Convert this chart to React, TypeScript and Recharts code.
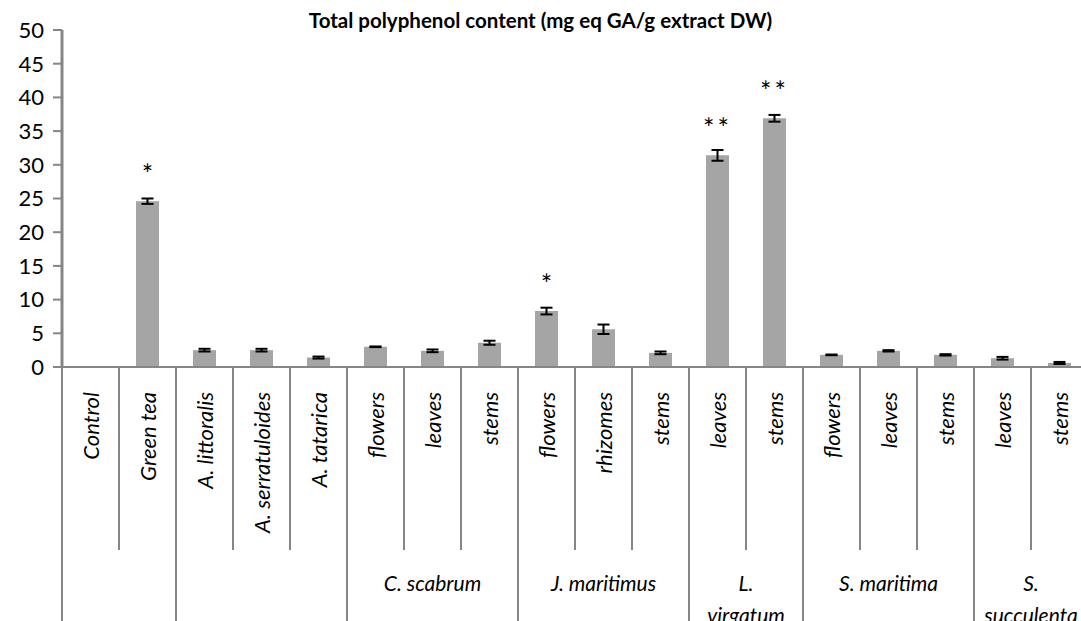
import React from 'react';
import { BarChart, Bar, XAxis, YAxis, ErrorBar, LabelList } from 'recharts';

const categories = [
  'Control', 'Green tea', 'A. littoralis', 'A. serratuloides', 'A. tatarica',
  'flowers', 'leaves', 'stems',
  'flowers', 'rhizomes', 'stems',
  'leaves', 'stems',
  'flowers', 'leaves', 'stems',
  'leaves', 'stems',
];
const values = [0, 24.6, 2.5, 2.5, 1.4, 3.0, 2.4, 3.6, 8.3, 5.6, 2.1, 31.4, 36.9, 1.8, 2.4, 1.8, 1.3, 0.6];
const errors = [0, 0.4, 0.2, 0.2, 0.15, 0.05, 0.2, 0.3, 0.5, 0.7, 0.2, 0.8, 0.5, 0.05, 0.1, 0.1, 0.2, 0.15];
const significance = ['', '*', '', '', '', '', '', '', '*', '', '', '**', '**', '', '', '', '', ''];

const groupNames = [[], [], ['C. scabrum'], ['J. maritimus'], ['L.', 'virgatum'], ['S. maritima'], ['S.', 'succulenta']];
const groupSizes = [2, 3, 3, 3, 2, 3, 2];

const yTicks = [0, 5, 10, 15, 20, 25, 30, 35, 40, 45, 50];

const data = categories.map((name, i) => ({
  name,
  value: values[i],
  err: errors[i],
  sig: significance[i],
}));

// index of first category of each group
const groupStarts = groupSizes.map((_, g) => groupSizes.slice(0, g).reduce((a, b) => a + b, 0));

const CHART_W = 1090;
const CHART_H = 621;
const Y_AXIS_W = 62;
const X_AXIS_H = 254;
const MARGIN = { top: 30, right: 2, left: 0, bottom: 0 };
const PLOT_W = CHART_W - Y_AXIS_W - MARGIN.right - MARGIN.left;
const AXIS_GRAY = '#868686';
const FONT = 'Lato, Calibri, sans-serif';

const CategoryTick = (props: any) => {
  const { x, y, payload } = props;
  const i = payload.index;
  const half = payload.offset || PLOT_W / categories.length / 2;
  const band = half * 2;
  const left = x - half;
  const g = groupStarts.indexOf(i);
  const isStart = g >= 0;
  const lineEnd = isStart ? CHART_H : 550;
  return (
    <g>
      <line x1={left} y1={y} x2={left} y2={lineEnd} stroke={AXIS_GRAY} strokeWidth={2} />
      <text
        x={x}
        y={y + 25}
        transform={`rotate(-90, ${x}, ${y + 25})`}
        textAnchor="end"
        dominantBaseline="central"
        fontSize={22}
        fontStyle="italic"
        fontFamily={FONT}
        fill="#000"
      >
        {payload.value}
      </text>
      {isStart &&
        groupNames[g].map((line, k) => (
          <text
            key={k}
            x={left + (groupSizes[g] * band) / 2}
            y={582 + k * 32}
            textAnchor="middle"
            dominantBaseline="central"
            fontSize={21}
            fontStyle="italic"
            fontFamily={FONT}
            fill="#000"
          >
            {line}
          </text>
        ))}
    </g>
  );
};

const SigLabel = (props: any) => {
  const { x, y, width, value } = props;
  if (!value) return null;
  return (
    <text
      x={x + width / 2}
      y={y - 17}
      textAnchor="middle"
      fontSize={27}
      fontFamily={FONT}
      letterSpacing={value.length > 1 ? 3 : 0}
      fill="#000"
    >
      {value}
    </text>
  );
};

const App: React.FC = () => {
  return (
    <div
      style={{
        position: 'absolute',
        left: 0,
        top: 0,
        width: 1081,
        height: 621,
        overflow: 'hidden',
        background: '#fff',
      }}
    >
      <div
        style={{
          position: 'absolute',
          top: 7,
          left: 0,
          width: 1081,
          textAlign: 'center',
          fontFamily: FONT,
          fontWeight: 'bold',
          fontSize: 20.5,
          lineHeight: '26px',
          color: '#000',
        }}
      >
        Total polyphenol content (mg eq GA/g extract DW)
      </div>
      <BarChart width={CHART_W} height={CHART_H} data={data} margin={MARGIN} barSize={23}>
        <XAxis
          dataKey="name"
          interval={0}
          tick={<CategoryTick />}
          tickLine={false}
          tickSize={0}
          tickMargin={0}
          height={X_AXIS_H}
          axisLine={{ stroke: AXIS_GRAY, strokeWidth: 2 }}
        />
        <YAxis
          width={Y_AXIS_W}
          domain={[0, 50]}
          ticks={yTicks}
          interval={0}
          tick={{ fontSize: 22, fill: '#000', fontFamily: FONT }}
          tickSize={9}
          tickMargin={9}
          tickLine={{ stroke: AXIS_GRAY, strokeWidth: 2 }}
          axisLine={{ stroke: AXIS_GRAY, strokeWidth: 3 }}
        />
        <Bar dataKey="value" fill="#a5a5a5" isAnimationActive={false}>
          <ErrorBar dataKey="err" width={6} stroke="#000" strokeWidth={2} direction="y" />
          <LabelList dataKey="sig" content={<SigLabel />} />
        </Bar>
      </BarChart>
    </div>
  );
};

export default App;
